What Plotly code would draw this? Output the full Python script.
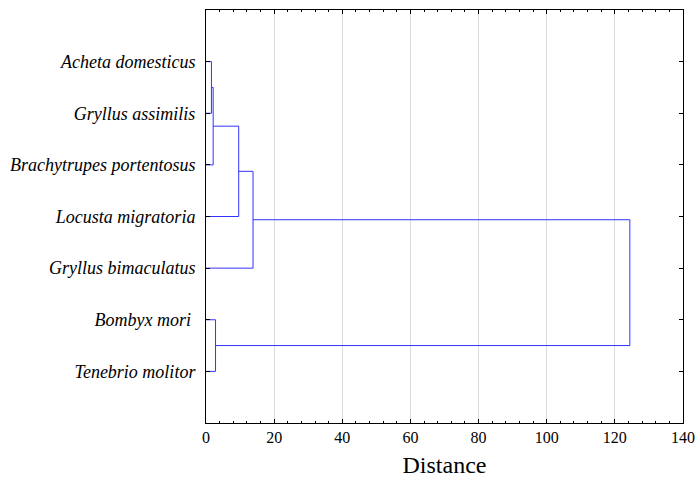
import plotly.graph_objects as go

# Leaf labels, top to bottom
leaves = ["Acheta domesticus", "Gryllus assimilis", "Brachytrupes portentosus",
          "Locusta migratoria", "Gryllus bimaculatus", "Bombyx mori ", "Tenebrio molitor"]
# Merges: (cluster a, cluster b, distance); leaves are 0..6, new clusters 7..
merge_a = [0, 7, 8, 5, 9, 10]
merge_b = [1, 2, 3, 6, 4, 11]
merge_d = [1.6, 2.1, 9.6, 2.8, 13.8, 124.4]

x_ticks = [0, 20, 40, 60, 80, 100, 120, 140]

pos = {i: (0.0, i + 1) for i in range(len(leaves))}
xs, ys = [], []
for k, (a, b, d) in enumerate(zip(merge_a, merge_b, merge_d)):
    xa, ya = pos[a]
    xb, yb = pos[b]
    xs += [xa, d, d, xb, None]
    ys += [ya, ya, yb, yb, None]
    pos[len(leaves) + k] = (d, (ya + yb) / 2)

fig = go.Figure()
fig.add_trace(go.Scatter(x=xs, y=ys, mode="lines",
                         line=dict(color="rgb(50,50,255)", width=1),
                         hoverinfo="skip", showlegend=False))

serif = "Liberation Serif, Times New Roman, serif"
fig.update_layout(
    width=696, height=479,
    margin=dict(l=206, r=13, t=10, b=56),
    plot_bgcolor="white", paper_bgcolor="white",
    font=dict(family=serif, color="black"),
    xaxis=dict(range=[0, 140], tickvals=x_ticks, ticktext=[str(v) for v in x_ticks],
               ticks="inside", ticklen=4, tickcolor="black", automargin=False,
               minor=dict(dtick=4, ticks="inside", ticklen=2, tickcolor="black", showgrid=False),
               showline=True, linecolor="black", linewidth=1, mirror="allticks",
               showgrid=True, gridcolor="rgb(218,218,218)", gridwidth=1,
               zeroline=False, tickfont=dict(size=16, family=serif),
               title=dict(text="Distance", font=dict(size=24, family=serif), standoff=10)),
    yaxis=dict(range=[8, 0], tickvals=list(range(1, len(leaves) + 1)), ticktext=leaves,
               ticks="inside", ticklen=4, tickcolor="black", automargin=False,
               showline=True, linecolor="black", linewidth=1, mirror="allticks",
               showgrid=False, zeroline=False, ticklabelstandoff=6,
               tickfont=dict(size=18, family=serif, style="italic")),
)
fig.write_html("out.html")
